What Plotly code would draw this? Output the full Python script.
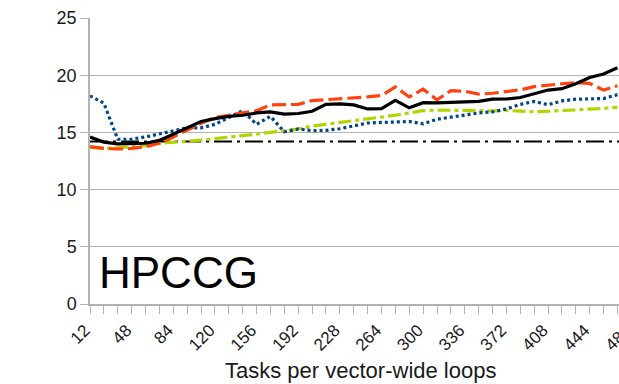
import plotly.graph_objects as go

tasks = list(range(12, 469, 12))  # 12 .. 468

black_solid = [14.6, 14.15, 14.0, 14.0, 14.05, 14.3, 14.85, 15.4, 15.95, 16.2,
               16.4, 16.5, 16.7, 16.8, 16.6, 16.65, 16.85, 17.45, 17.5, 17.4,
               17.05, 17.08, 17.8, 17.15, 17.6, 17.58, 17.62, 17.66, 17.72, 17.9,
               17.92, 18.05, 18.38, 18.7, 18.82, 19.25, 19.8, 20.1, 20.65]

orange_dashed = [13.75, 13.6, 13.55, 13.6, 13.75, 14.05, 14.6, 15.2, 15.8, 16.3,
                 16.5, 16.65, 16.9, 17.4, 17.4, 17.45, 17.78, 17.85, 17.95, 18.05,
                 18.1, 18.22, 18.98, 18.1, 18.78, 17.85, 18.65, 18.6, 18.35, 18.42,
                 18.55, 18.72, 19.0, 19.15, 19.25, 19.35, 19.28, 18.7, 19.08]

blue_dotted = [18.2, 17.55, 14.4, 14.4, 14.6, 14.85, 15.1, 15.4, 15.4, 15.7,
               16.3, 16.9, 15.7, 16.4, 15.05, 15.3, 15.15, 15.18, 15.32, 15.55,
               15.82, 15.87, 15.93, 15.95, 15.75, 16.15, 16.33, 16.52, 16.7, 16.8,
               17.05, 17.45, 17.7, 17.42, 17.75, 17.9, 17.93, 17.96, 18.3]

lime_dashdot = [13.7, 13.6, 13.65, 13.75, 13.85, 14.05, 14.12, 14.22, 14.33, 14.45,
                14.55, 14.7, 14.85, 15.0, 15.15, 15.3, 15.55, 15.7, 15.9, 16.05,
                16.2, 16.35, 16.5, 16.7, 16.9, 16.95, 16.95, 16.95, 16.9, 16.87,
                16.92, 16.86, 16.8, 16.85, 16.9, 16.95, 17.0, 17.1, 17.2]

baseline_value = 14.2

x_tick_vals = list(range(12, 481, 36))
y_tick_vals = [0, 5, 10, 15, 20, 25]

chart_label = "HPCCG"
x_title = "Tasks per vector-wide loops"

X_MIN, X_MAX = 12, 487.5
GRID = "#b3b3b3"
TXT = "#1a1a1a"

fig = go.Figure()
fig.add_trace(go.Scatter(x=[tasks[0], X_MAX], y=[baseline_value, baseline_value], mode="lines",
                         line=dict(color="#000000", width=2, dash="18px,5px,3px,5px"),
                         showlegend=False, hoverinfo="skip"))
fig.add_trace(go.Scatter(x=tasks, y=lime_dashdot, mode="lines",
                         line=dict(color="#b4d400", width=3.2, dash="13px,4px,4px,4px"),
                         showlegend=False))
fig.add_trace(go.Scatter(x=tasks, y=blue_dotted, mode="lines",
                         line=dict(color="#004586", width=3.2, dash="3px,3px"),
                         showlegend=False))
fig.add_trace(go.Scatter(x=tasks, y=orange_dashed, mode="lines",
                         line=dict(color="#ff420e", width=3.2, dash="14px,5px"),
                         showlegend=False))
fig.add_trace(go.Scatter(x=tasks, y=black_solid, mode="lines",
                         line=dict(color="#000000", width=3.2),
                         showlegend=False))

fig.update_layout(
    width=640, height=384,
    margin=dict(l=90, r=0, t=18, b=80),
    plot_bgcolor="white", paper_bgcolor="white",
    font=dict(family="Liberation Sans, Arial, sans-serif", color=TXT),
    xaxis=dict(range=[X_MIN, X_MAX], tickmode="array", tickvals=x_tick_vals,
               ticktext=[str(v) for v in x_tick_vals], tickangle=-45,
               tickfont=dict(size=17, color=TXT), automargin=False,
               ticklabelshift=-5, ticklabeloverflow="allow",
               ticks="outside", ticklen=8, tickcolor=GRID, tickwidth=1,
               minor=dict(dtick=12, tick0=12, ticks="outside", ticklen=8,
                          tickcolor=GRID, tickwidth=1, showgrid=False),
               showgrid=False, showline=True, linecolor=GRID, linewidth=1.5,
               zeroline=False),
    yaxis=dict(range=[0, 25], tickmode="array", tickvals=y_tick_vals,
               tickfont=dict(size=18, color=TXT), automargin=False,
               ticks="outside", ticklen=8, tickcolor=GRID, tickwidth=1,
               showgrid=True, gridcolor=GRID, gridwidth=1,
               showline=True, linecolor=GRID, linewidth=1.5, zeroline=False),
)

fig.add_annotation(xref="paper", yref="paper", x=0.013, y=0.11,
                   text=chart_label, showarrow=False, xanchor="left", yanchor="middle",
                   font=dict(size=44, color="#000000"))

# axis title centred at x≈360 px
fig.add_annotation(xref="paper", yref="paper", x=(360 - 90) / 550, y=-0.232,
                   text=x_title, showarrow=False, xanchor="center", yanchor="middle",
                   font=dict(size=22, color=TXT))

fig.write_html(
    "out.html",
    config={"displayModeBar": False},
    post_script="document.body.style.margin='0';document.body.style.overflow='hidden';",
)
